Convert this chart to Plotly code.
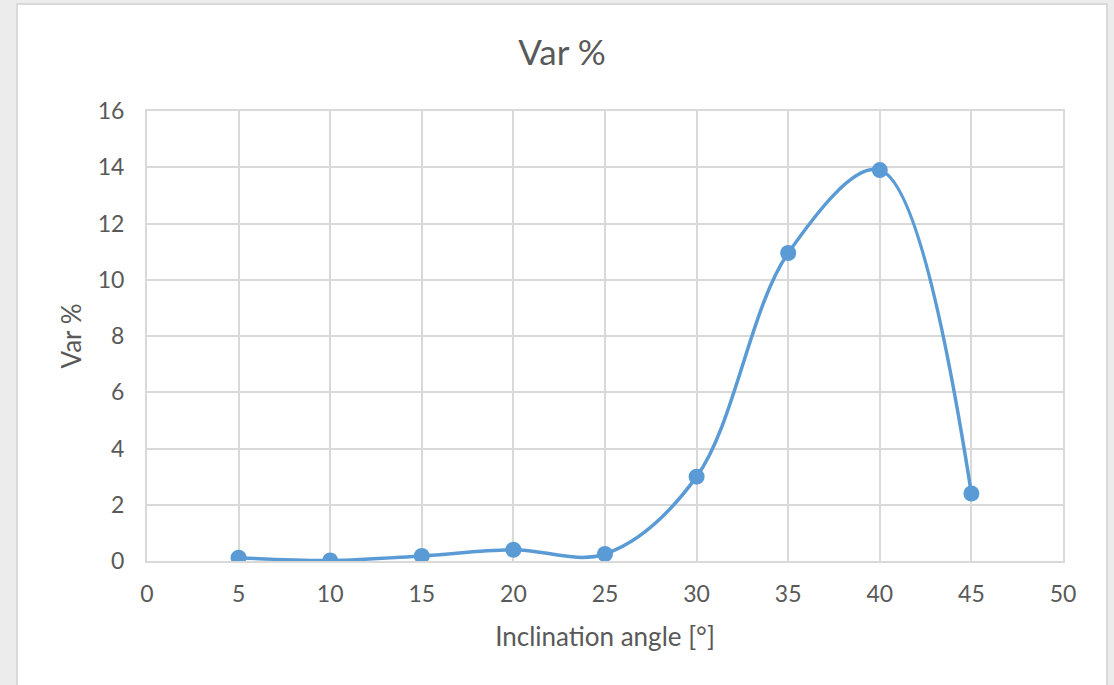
import plotly.graph_objects as go

# Variation in percent against inclination angle
angles = [5, 10, 15, 20, 25, 30, 35, 40, 45]
var_pct = [0.12, 0.02, 0.18, 0.40, 0.25, 3.0, 10.95, 13.9, 2.4]

x_ticks = [0, 5, 10, 15, 20, 25, 30, 35, 40, 45, 50]
y_ticks = [0, 2, 4, 6, 8, 10, 12, 14, 16]

W, H = 1114, 685
ML, MR, MT, MB = 147, 51, 111, 124
PW, PH = W - ML - MR, H - MT - MB

def px_x(p):
    return (p - ML) / PW

def px_y(p):
    return (H - MB - p) / PH

BLUE = "#5b9bd5"
GRID = "#d9d9d9"
TXT = "#595959"
FONT = "Lato, Carlito, 'Liberation Sans', sans-serif"

fig = go.Figure()
fig.add_trace(go.Scatter(
    x=angles, y=var_pct, mode="lines+markers",
    line=dict(color=BLUE, width=3.5, shape="spline", smoothing=1.0),
    marker=dict(color=BLUE, size=16),
    showlegend=False,
))

# white chart card with thin gray frame
fig.add_shape(type="rect", xref="paper", yref="paper", layer="below",
              x0=px_x(17), x1=px_x(1107), y0=px_y(700), y1=px_y(4),
              fillcolor="white", line=dict(color=GRID, width=2))

axis_common = dict(showgrid=True, gridcolor=GRID, gridwidth=2,
                   zeroline=False, showline=True, linecolor=GRID, linewidth=2,
                   ticks="", tickfont=dict(family=FONT, size=23, color=TXT),
                   mirror=True)

fig.update_xaxes(range=[0, 50], tickvals=x_ticks, ticklabelstandoff=11,
                 title=dict(text="Inclination angle [°]", standoff=22,
                            font=dict(family=FONT, size=26, color=TXT)),
                 **axis_common)
fig.update_yaxes(range=[0, 16], tickvals=y_ticks, ticklabelstandoff=16,
                 title=dict(text="Var %", standoff=9,
                            font=dict(family=FONT, size=26, color=TXT)),
                 **axis_common)

fig.update_layout(
    width=W, height=H,
    margin=dict(l=ML, r=MR, t=MT, b=MB),
    paper_bgcolor="#ececec", plot_bgcolor="white",
    title=dict(text="Var %", x=562 / W, xanchor="center",
               y=1 - 53 / H, yanchor="middle",
               font=dict(family=FONT, size=35, color=TXT)),
)

fig.write_html("out.html")
